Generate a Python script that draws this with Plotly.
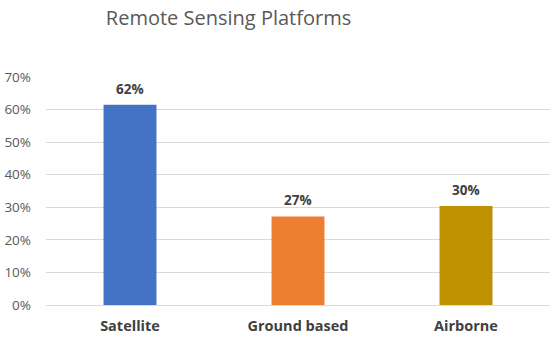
import plotly.graph_objects as go

categories = ["Satellite", "Ground based", "Airborne"]
values = [0.615, 0.272, 0.304]
colors = ["#4472C4", "#ED7D31", "#BF9000"]
tick_vals = [0, 0.1, 0.2, 0.3, 0.4, 0.5, 0.6, 0.7]

fig = go.Figure(go.Bar(
    x=categories, y=values,
    marker=dict(color=colors, line=dict(width=0)),
    cliponaxis=False,
    hoverinfo="skip",
))

for c, v in zip(categories, values):
    fig.add_annotation(x=c, y=v, text=f"<b>{v:.0%}</b>", showarrow=False,
                       yanchor="bottom", yshift=5,
                       font=dict(family="Open Sans", size=13.5, color="#404040"))

fig.update_layout(
    width=550, height=337,
    margin=dict(l=46, r=0, t=77, b=32),
    paper_bgcolor="white", plot_bgcolor="white",
    bargap=0.685,
    showlegend=False,
    title=dict(text="Remote Sensing Platforms", x=0.4155, xanchor="center", y=0.947, yanchor="middle",
               font=dict(family="Open Sans", size=20, color="#595959")),
    xaxis=dict(showgrid=False, showline=False, ticks="", automargin=False,
               ticklabelstandoff=10,
               tickfont=dict(family="Open Sans", size=14.5, color="#404040", weight="bold")),
    yaxis=dict(range=[0, 0.7], tickvals=tick_vals, tickformat=".0%", automargin=False,
               showgrid=True, gridcolor="#D9D9D9", gridwidth=1, zeroline=True,
               zerolinecolor="#D9D9D9", zerolinewidth=1, showline=False, ticks="",
               ticklabelstandoff=14,
               tickfont=dict(family="Open Sans", size=13.5, color="#595959")),
)

fig.write_html("out.html", config={"displayModeBar": False},
               post_script="document.body.style.margin='0';")
